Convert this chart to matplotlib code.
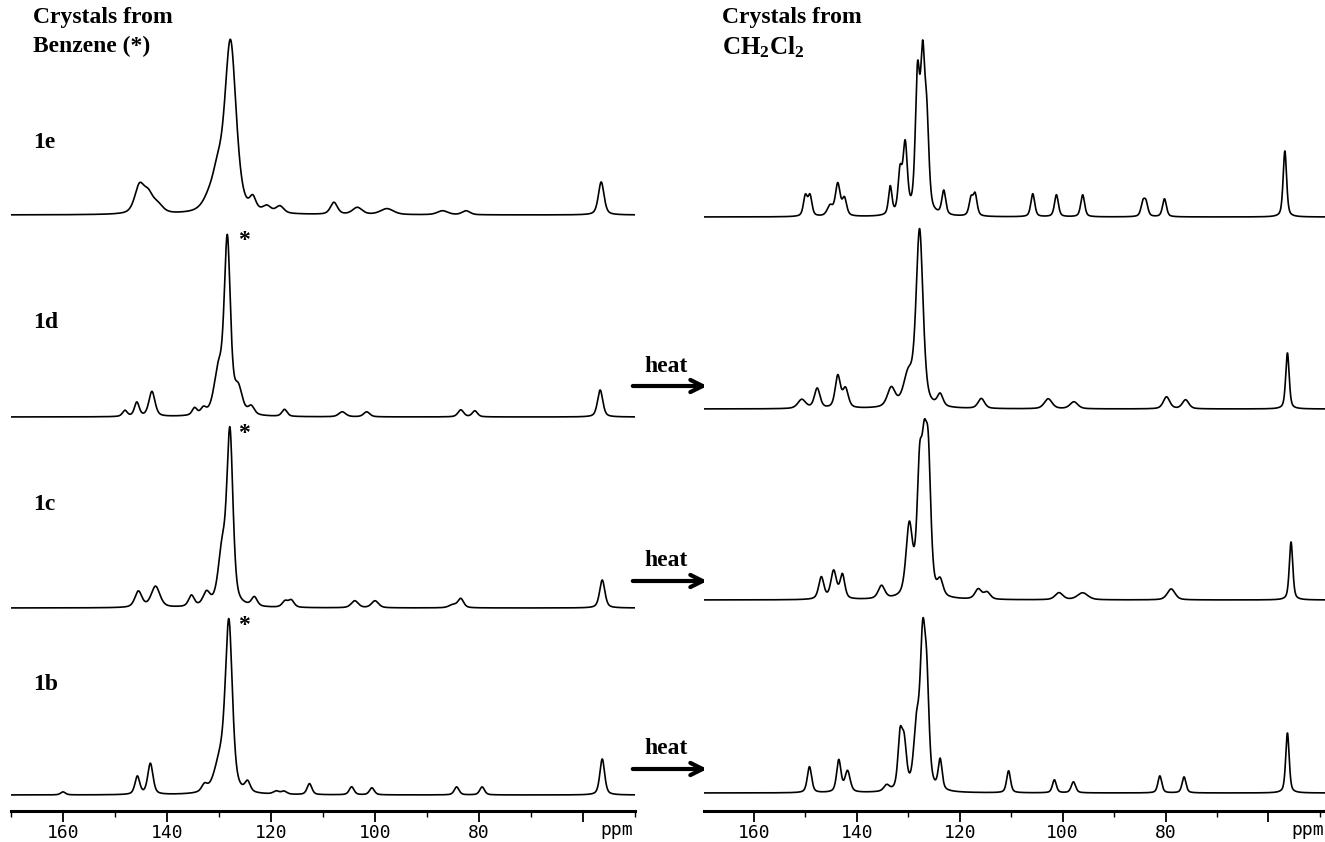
import numpy as np
import matplotlib.pyplot as plt
from matplotlib.ticker import MultipleLocator

plt.rcParams['mathtext.fontset'] = 'custom'
plt.rcParams['mathtext.bf'] = 'Liberation Serif:bold'
plt.rcParams['mathtext.rm'] = 'Liberation Serif:bold'

# ---------- peak lists: (ppm, height, fwhm) ----------
# left column, crystals from benzene
e1_pos = [145.3, 143.6, 141.8, 132.0, 130.3, 127.8, 123.5, 120.8, 118.3, 107.9, 103.4, 97.7, 87.0, 82.5, 56.5]
e1_h   = [27,    17,    8,     10,    32,    171,   12,    6,     7,     12,    7,     6,    4,    4,    33]
e1_w   = [2.2,   2.2,   2.4,   2.8,   2.4,   2.6,   1.4,   1.8,   1.8,   1.6,   2.2,   3.0,  2.4,  1.8,  1.3]

d1_pos = [148.1, 145.8, 142.9, 134.7, 133.0, 130.1, 128.4, 126.3, 123.8, 117.4, 106.3, 101.6, 83.5, 80.8, 56.7]
d1_h   = [6,     14,    25,    7,     6,     42,    172,   24,    8,     7,     5,     5,     7,    6,    27]
d1_w   = [1.1,   1.1,   1.4,   1.1,   1.2,   2.0,   1.4,   1.8,   1.4,   1.2,   1.6,   1.4,   1.3,  1.2,  1.2]

c1_pos = [145.5, 142.2, 135.3, 132.4, 129.4, 127.9, 123.2, 117.3, 116.1, 103.9, 100.0, 85.0, 83.5, 56.3]
c1_h   = [16,    21,    11,    13,    52,    170,   9,     6,     7,     7,     7,     3,    9,    28]
c1_w   = [1.6,   2.0,   1.3,   1.6,   1.8,   1.4,   1.3,   1.3,   1.3,   1.6,   1.6,   1.8,  1.3,  1.2]

b1_pos = [160.0, 145.7, 143.2, 132.8, 129.8, 128.1, 124.5, 119.0, 117.5, 112.6, 104.5, 100.6, 84.3, 79.4, 56.3]
b1_h   = [3,     18,    31,    7,     30,    166,   10,    3,     3,     11,    8,     7,     8,    8,    36]
b1_w   = [1.1,   1.1,   1.2,   1.3,   2.6,   1.6,   1.2,   1.3,   1.3,   1.1,   1.1,   1.1,   1.1,  1.1,  1.1]

# right column, crystals from CH2Cl2 (top) and heated samples
r1_pos = [150.0, 149.1, 145.2, 143.7, 142.4, 133.5, 131.6, 130.6, 128.2, 127.2, 126.4, 123.1, 117.8, 117.0, 105.8, 101.2, 96.1, 84.4, 83.8, 80.2, 56.8]
r1_h   = [20,    20,    10,    32,    17,    28,    40,    68,    132,   140,   82,    24,    17,    21,    23,    22,    22,   13,   13,   18,   66]
r1_w   = [0.9,   0.9,   1.3,   1.1,   1.0,   0.8,   0.9,   1.0,   1.0,   1.0,   1.0,   0.9,   0.9,   0.9,   0.9,   0.9,   0.9,  0.9,  0.9,  0.9,  0.8]

r2_pos = [150.7, 147.7, 143.7, 142.2, 133.3, 130.0, 127.8, 123.8, 115.8, 102.8, 97.8, 79.8, 76.1, 56.3]
r2_h   = [9,     20,    32,    19,    19,    30,    176,   12,    10,    10,    7,    12,   9,    56]
r2_w   = [1.8,   1.3,   1.2,   1.3,   1.8,   2.2,   1.6,   1.3,   1.5,   1.8,   1.8,  1.5,  1.5,  0.8]

r3_pos = [146.9, 144.5, 142.8, 135.2, 129.8, 127.8, 126.9, 126.1, 123.8, 116.4, 114.7, 100.7, 96.1, 78.9, 55.6]
r3_h   = [22,    28,    24,    13,    70,    115,   108,   122,   15,    10,    7,     7,     7,    11,   58]
r3_w   = [1.2,   1.3,   1.1,   1.5,   1.5,   1.2,   1.2,   1.2,   1.3,   1.5,   1.5,   1.8,   2.4,  1.8,  0.8]

r4_pos = [149.2, 143.5, 141.8, 134.2, 131.6, 130.8, 128.4, 127.2, 126.4, 123.8, 110.5, 101.6, 97.9, 81.1, 76.4, 56.3]
r4_h   = [26,    32,    21,    6,     50,    44,    58,    138,   90,    30,    22,    13,    11,   17,   16,   60]
r4_w   = [1.0,   1.0,   1.2,   1.3,   1.0,   1.1,   1.3,   1.2,   1.1,   0.9,   0.9,   0.9,   1.0,  0.9,  0.9,  0.8]

left_labels = ['1e', '1d', '1c', '1b']
tick_vals = [160, 140, 120, 100, 80, 60]
tick_text = ['160', '140', '120', '100', '80', '']

W, H = 1325, 842


def spectrum(x, pos, h, w):
    # pseudo-Voigt line for every listed peak
    y = np.zeros_like(x)
    for p, a, fw in zip(pos, h, w):
        d = (x - p) / fw
        y += a * (0.5 * np.exp(-4 * np.log(2) * d**2) + 0.5 / (1 + 4 * d**2))
    return y


def fx(px):
    return px / W


def fy(py):
    return 1 - py / H


fig = plt.figure(figsize=(W / 100, H / 100), dpi=100)
axL = fig.add_axes([fx(11), fy(811), fx(624), 811 / H])
axR = fig.add_axes([fx(704), fy(811), fx(621), 811 / H])

x = np.linspace(172, 45, 6000)

left_sets = [(e1_pos, e1_h, e1_w), (d1_pos, d1_h, d1_w), (c1_pos, c1_h, c1_w), (b1_pos, b1_h, b1_w)]
right_sets = [(r1_pos, r1_h, r1_w), (r2_pos, r2_h, r2_w), (r3_pos, r3_h, r3_w), (r4_pos, r4_h, r4_w)]
left_base = [215, 417, 608, 795]     # baseline rows in pixels
right_base = [217, 409, 600, 793]

for ax, sets, bases in [(axL, left_sets, left_base), (axR, right_sets, right_base)]:
    for (pos, h, w), b in zip(sets, bases):
        ax.plot(x, 811 - b + spectrum(x, pos, h, w), color='black', lw=1.2)
    ax.set_ylim(0, 811)
    for s in ['top', 'left', 'right']:
        ax.spines[s].set_visible(False)
    ax.spines['bottom'].set_linewidth(2.2)
    ax.set_yticks([])
    ax.set_xticks(tick_vals)
    ax.set_xticklabels(tick_text, family='DejaVu Sans Mono', fontsize=13)
    ax.xaxis.set_minor_locator(MultipleLocator(10))
    ax.tick_params(axis='x', which='major', direction='out', length=8, width=1.3, pad=1)
    ax.tick_params(axis='x', which='minor', direction='out', length=4, width=1.0)

axL.set_xlim(170, 50)
axR.set_xlim(169.7, 49)
axL.text(53.5, -19, 'ppm', family='DejaVu Sans Mono', fontsize=13, ha='center', va='center', clip_on=False)
axR.text(49.2, -19, 'ppm', family='DejaVu Sans Mono', fontsize=13, ha='right', va='center', clip_on=False)

# asterisks on the benzene peak of 1d, 1c, 1b
for (pos, h, w), b in zip(left_sets[1:], left_base[1:]):
    top = 811 - b + spectrum(x, pos, h, w).max()
    axL.text(125.2, top + 4, '*', family='Liberation Serif', fontweight='bold', fontsize=17,
             ha='center', va='top')

serif = dict(family='Liberation Serif', fontweight='bold', fontsize=17, color='black')
fig.text(fx(33), fy(18), 'Crystals from', ha='left', va='center', **serif)
fig.text(fx(33), fy(46), 'Benzene (*)', ha='left', va='center', **serif)
fig.text(fx(722), fy(18), 'Crystals from', ha='left', va='center', **serif)
fig.text(fx(722), fy(47), r'$\mathbf{CH_2Cl_2}$', ha='left', va='center', fontsize=18)

for lab, py in zip(left_labels, [142, 322, 505, 685]):
    fig.text(fx(33), fy(py), lab, ha='left', va='center', **serif)

for py in [386, 581, 769]:
    fig.text(fx(666), fy(py - 20), 'heat', ha='center', va='center', **serif)
    axL.annotate('', xy=(fx(710), fy(py)), xytext=(fx(630), fy(py)),
                 xycoords='figure fraction', textcoords='figure fraction',
                 arrowprops=dict(arrowstyle='->', lw=3, color='black', mutation_scale=22),
                 annotation_clip=False)

plt.savefig('out.png', dpi=100)
